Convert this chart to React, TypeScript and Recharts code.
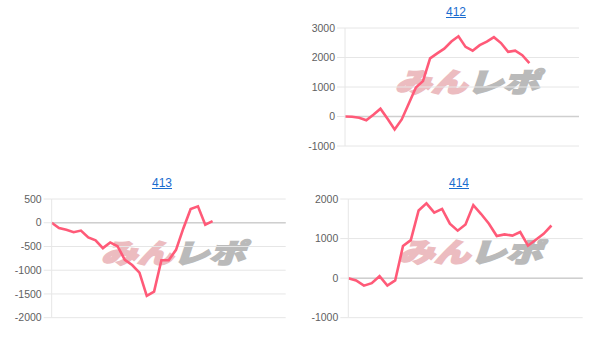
import { LineChart, Line, XAxis, YAxis, CartesianGrid, ReferenceLine } from 'recharts';

// machine numbers shown as chart titles
const TITLE_412 = '412';
const TITLE_413 = '413';
const TITLE_414 = '414';

// per-game running totals
const VALUES_412 = [0, -10, -45, -130, 60, 265, -80, -440, -100, 440, 980, 1200, 1970, 2140, 2300, 2540, 2720, 2360, 2230, 2420, 2540, 2690, 2490, 2190, 2230, 2080, 1810];
const VALUES_413 = [0, -110, -150, -200, -165, -310, -370, -535, -415, -495, -780, -890, -1050, -1540, -1450, -790, -790, -570, -120, 290, 345, -40, 35];
const VALUES_414 = [0, -59, -190, -126, 50, -186, -59, 810, 960, 1711, 1890, 1655, 1750, 1375, 1200, 1355, 1845, 1620, 1375, 1065, 1105, 1075, 1165, 820, 970, 1120, 1330];

const TICKS_412 = [-1000, 0, 1000, 2000, 3000];
const TICKS_413 = [-2000, -1500, -1000, -500, 0, 500];
const TICKS_414 = [-1000, 0, 1000, 2000];

const LINE_COLOR = '#ff5a78';
const GRID_COLOR = '#e6e6e6';
const FONT = '"Liberation Sans", Arial, sans-serif';

type PanelProps = {
  title: string;
  values: number[];
  ticks: number[];
  slots: number;
  left: number;
  top: number;
  yWidth: number;
  marginRight: number;
  marginTop: number;
  marginBottom: number;
  titleX: number;
  titleY: number;
  markX: number;
  markY: number;
};

function Watermark({ x, y }: { x: number; y: number }) {
  return (
    <div
      style={{
        position: 'absolute',
        left: x - 90,
        top: y - 26,
        width: 180,
        textAlign: 'center',
        fontFamily: '"Noto Sans CJK JP", sans-serif',
        fontWeight: 900,
        fontSize: 36,
        lineHeight: '52px',
        letterSpacing: 0,
        transform: 'scale(1, 0.74) skewX(-14deg)',
        whiteSpace: 'nowrap',
      }}
    >
      <span style={{ color: '#ecbcc0', WebkitTextStroke: '2.5px #ecbcc0' }}>みん</span>
      <span style={{ color: '#bababa', WebkitTextStroke: '2.5px #bababa' }}>レポ</span>
    </div>
  );
}

function Panel(p: PanelProps) {
  const data = p.values.map((v, i) => ({ x: i, v }));
  const width = 300;
  const height = 140;
  return (
    <>
      <Watermark x={p.markX} y={p.markY} />
      <div style={{ position: 'absolute', left: p.left, top: p.top, width, height }}>
        <LineChart
          width={width}
          height={height}
          data={data}
          margin={{ top: p.marginTop, right: p.marginRight, bottom: p.marginBottom, left: 0 }}
        >
          <CartesianGrid vertical={false} stroke={GRID_COLOR} />
          <XAxis dataKey="x" type="number" domain={[0, p.slots]} hide />
          <YAxis
            ticks={p.ticks}
            domain={[p.ticks[0], p.ticks[p.ticks.length - 1]]}
            width={p.yWidth}
            interval={0}
            stroke={GRID_COLOR}
            tickSize={8}
            tickMargin={2}
            tick={{ fill: '#5f5f5f', fontSize: 10.5, fontFamily: FONT }}
          />
          <ReferenceLine y={0} stroke="#cfcfcf" strokeWidth={1.5} />
          <Line
            type="linear"
            dataKey="v"
            stroke={LINE_COLOR}
            strokeWidth={2.6}
            dot={false}
            isAnimationActive={false}
          />
        </LineChart>
      </div>
      <div
        style={{
          position: 'absolute',
          left: p.titleX - 30,
          top: p.titleY - 8,
          width: 60,
          textAlign: 'center',
          fontFamily: FONT,
          fontSize: 12,
          lineHeight: '16px',
        }}
      >
        <a href="#" style={{ color: '#1a6ccf', textDecoration: 'underline' }}>{p.title}</a>
      </div>
    </>
  );
}

export default function App() {
  return (
    <div style={{ position: 'absolute', left: 0, top: 0, width: 612, height: 348, background: '#fff', overflow: 'hidden' }}>
      <Panel
        title={TITLE_412}
        values={VALUES_412}
        ticks={TICKS_412}
        slots={33}
        left={300}
        top={20}
        yWidth={45}
        marginRight={21}
        marginTop={8}
        marginBottom={14}
        titleX={456}
        titleY={12}
        markX={471}
        markY={80}
      />
      <Panel
        title={TITLE_413}
        values={VALUES_413}
        ticks={TICKS_413}
        slots={32}
        left={0}
        top={190}
        yWidth={51.7}
        marginRight={14.3}
        marginTop={9}
        marginBottom={12.3}
        titleX={162}
        titleY={183}
        markX={177}
        markY={251}
      />
      <Panel
        title={TITLE_414}
        values={VALUES_414}
        ticks={TICKS_414}
        slots={30}
        left={300}
        top={190}
        yWidth={48.3}
        marginRight={17.3}
        marginTop={9}
        marginBottom={12.3}
        titleX={459}
        titleY={183}
        markX={474}
        markY={250}
      />
    </div>
  );
}
